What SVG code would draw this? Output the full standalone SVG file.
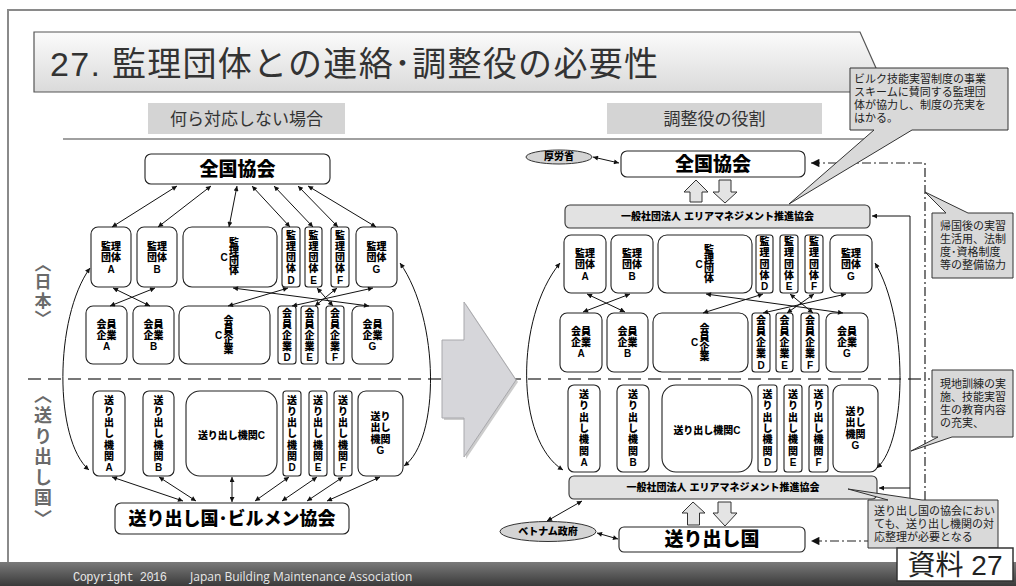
<svg xmlns="http://www.w3.org/2000/svg" width="1016" height="586" viewBox="0 0 1016 586">
<defs>
<linearGradient id="gb" x1="0" y1="0" x2="0" y2="1"><stop offset="0" stop-color="#fbfbfb"/><stop offset="1" stop-color="#dadada"/></linearGradient>
<linearGradient id="gf" x1="0" y1="0" x2="0" y2="1"><stop offset="0" stop-color="#7a7a7a"/><stop offset="1" stop-color="#3a3a3a"/></linearGradient>
<marker id="a" viewBox="0 0 10 10" refX="10" refY="5" markerWidth="7" markerHeight="5" orient="auto-start-reverse"><path d="M0,0L10,5L0,10z" fill="#111"/></marker>
<marker id="b" viewBox="0 0 10 10" refX="10" refY="5" markerWidth="10" markerHeight="7" orient="auto-start-reverse"><path d="M0,0L10,5L0,10z" fill="#111"/></marker>
<style>
.nb{fill:#fff;stroke:#222;stroke-width:1.1}
.gb{fill:#e2e2e2;stroke:#333;stroke-width:1.1}
.ha{fill:#e4e4e4;stroke:#333;stroke-width:1}
.t{font-family:"Liberation Sans","Noto Sans CJK JP",sans-serif;font-weight:900;font-size:10px;text-anchor:middle;fill:#000}
.big{font-family:"Liberation Sans","Noto Sans CJK JP",sans-serif;font-weight:900;text-anchor:middle;fill:#000}
.c{stroke:#111;stroke-width:1;fill:none;marker-start:url(#a);marker-end:url(#a)}
.dd{stroke:#222;stroke-width:1.2;fill:none;stroke-dasharray:9 3 2 3;marker-start:url(#b);marker-end:url(#b)}
.co{fill:#d9d9d9;stroke:#333;stroke-width:1}
.ct{font-family:"Liberation Sans","Noto Sans CJK JP",sans-serif;font-size:11px;fill:#222}
.side{font-family:"Noto Sans CJK JP",sans-serif;font-weight:bold;fill:#6a6a6a;writing-mode:vertical-rl}
.sub{font-family:"Liberation Sans","Noto Sans CJK JP",sans-serif;font-size:17px;fill:#333;text-anchor:middle}
</style>
</defs>
<rect width="1016" height="586" fill="#fff"/>
<!-- frame -->
<path d="M8,562 V10 H1016" fill="none" stroke="#8a8a8a" stroke-width="2"/>
<!-- title -->
<g id="title">
<path d="M34,32 H860 L884,86 V92 H34 Z" fill="url(#gb)" stroke="#555" stroke-width="1.2"/>
<text x="50" y="76" font-family="'Liberation Sans','Noto Sans CJK JP',sans-serif" font-size="34" fill="#333" textLength="608">27. 監理団体との連絡･調整役の必要性</text>
</g>
<g id="subtitles">
<rect x="148" y="103" width="197" height="31" fill="#d4d4d4"/>
<text class="sub" x="246.5" y="125">何ら対応しない場合</text>
<rect x="607" y="103" width="215" height="31" fill="#d4d4d4"/>
<text class="sub" x="714.5" y="125">調整役の役割</text>
</g>
<line x1="63" y1="139" x2="880" y2="139" stroke="#808080" stroke-width="1.6"/>
<!-- dashed border -->
<line x1="28" y1="379" x2="930" y2="379" stroke="#777" stroke-width="2.2" stroke-dasharray="13 7"/>
<!-- side labels -->
<g id="label-japan">
<text class="side" x="43" y="255" font-size="17" letter-spacing="1.5">〈日本〉</text>
</g>
<g id="label-sending">
<text class="side" x="43" y="386" font-size="18" letter-spacing="2.5">〈送り出し国〉</text>
</g>
<!-- big arrow -->
<g id="transition-arrow">
<polygon points="444,342 466,342 466,304 518,382 466,459 466,420 444,420" fill="#999" opacity="0.5"/>
<polygon points="442,340 464,340 464,302 516,380 464,457 464,418 442,418" fill="#d6d6da" stroke="#a8a8ac" stroke-width="1"/>
</g>

<!-- LEFT DIAGRAM NODES -->
<g id="L-zenkoku"><rect class="nb" x="145" y="154" width="185" height="30" rx="6"/><text class="big" x="237.5" y="176" font-size="19">全国協会</text></g>

<g id="L-kanri-A"><rect class="nb" x="91" y="227" width="40" height="60" rx="7"/><text class="t"><tspan x="111" y="249.5">監理</tspan><tspan x="111" y="261">団体</tspan><tspan x="111" y="272.5">A</tspan></text></g>
<g id="L-kanri-B"><rect class="nb" x="137" y="227" width="40" height="60" rx="7"/><text class="t"><tspan x="157" y="249.5">監理</tspan><tspan x="157" y="261">団体</tspan><tspan x="157" y="272.5">B</tspan></text></g>
<g id="L-kanri-C"><rect class="nb" x="183" y="227" width="94" height="60" rx="9"/><text class="t" x="224" y="261">C</text><text class="t"><tspan x="234" y="245.5">監</tspan><tspan x="234" y="255">理</tspan><tspan x="234" y="264.5">団</tspan><tspan x="234" y="274">体</tspan></text></g>
<g id="L-kanri-D"><rect class="nb" x="282" y="227" width="18" height="60" rx="3"/><text class="t"><tspan x="291" y="238.5">監</tspan><tspan x="291" y="249.8">理</tspan><tspan x="291" y="261">団</tspan><tspan x="291" y="272.3">体</tspan><tspan x="291" y="283.5">D</tspan></text></g>
<g id="L-kanri-E"><rect class="nb" x="305" y="227" width="17" height="60" rx="3"/><text class="t"><tspan x="313.5" y="238.5">監</tspan><tspan x="313.5" y="249.8">理</tspan><tspan x="313.5" y="261">団</tspan><tspan x="313.5" y="272.3">体</tspan><tspan x="313.5" y="283.5">E</tspan></text></g>
<g id="L-kanri-F"><rect class="nb" x="331" y="227" width="18" height="60" rx="3"/><text class="t"><tspan x="340" y="238.5">監</tspan><tspan x="340" y="249.8">理</tspan><tspan x="340" y="261">団</tspan><tspan x="340" y="272.3">体</tspan><tspan x="340" y="283.5">F</tspan></text></g>
<g id="L-kanri-G"><rect class="nb" x="356" y="227" width="41" height="60" rx="7"/><text class="t"><tspan x="376.5" y="249.5">監理</tspan><tspan x="376.5" y="261">団体</tspan><tspan x="376.5" y="272.5">G</tspan></text></g>

<g id="L-kaiin-A"><rect class="nb" x="86" y="306" width="41" height="58" rx="7"/><text class="t"><tspan x="106.5" y="327.5">会員</tspan><tspan x="106.5" y="338.5">企業</tspan><tspan x="106.5" y="349.5">A</tspan></text></g>
<g id="L-kaiin-B"><rect class="nb" x="133" y="306" width="41" height="58" rx="7"/><text class="t"><tspan x="153.5" y="327.5">会員</tspan><tspan x="153.5" y="338.5">企業</tspan><tspan x="153.5" y="349.5">B</tspan></text></g>
<g id="L-kaiin-C"><rect class="nb" x="179" y="306" width="91" height="58" rx="9"/><text class="t" x="218.5" y="338.5">C</text><text class="t"><tspan x="228.5" y="324.25">会</tspan><tspan x="228.5" y="333.75">員</tspan><tspan x="228.5" y="343.25">企</tspan><tspan x="228.5" y="352.75">業</tspan></text></g>
<g id="L-kaiin-D"><rect class="nb" x="278" y="306" width="18" height="58" rx="3"/><text class="t"><tspan x="287" y="316.5">会</tspan><tspan x="287" y="327.5">員</tspan><tspan x="287" y="338.5">企</tspan><tspan x="287" y="349.5">業</tspan><tspan x="287" y="360.5">D</tspan></text></g>
<g id="L-kaiin-E"><rect class="nb" x="301" y="306" width="17" height="58" rx="3"/><text class="t"><tspan x="309.5" y="316.5">会</tspan><tspan x="309.5" y="327.5">員</tspan><tspan x="309.5" y="338.5">企</tspan><tspan x="309.5" y="349.5">業</tspan><tspan x="309.5" y="360.5">E</tspan></text></g>
<g id="L-kaiin-F"><rect class="nb" x="326" y="306" width="18" height="58" rx="3"/><text class="t"><tspan x="335" y="316.5">会</tspan><tspan x="335" y="327.5">員</tspan><tspan x="335" y="338.5">企</tspan><tspan x="335" y="349.5">業</tspan><tspan x="335" y="360.5">F</tspan></text></g>
<g id="L-kaiin-G"><rect class="nb" x="352" y="306" width="41" height="58" rx="7"/><text class="t"><tspan x="372.5" y="327.5">会員</tspan><tspan x="372.5" y="338.5">企業</tspan><tspan x="372.5" y="349.5">G</tspan></text></g>

<g id="L-okuri-A"><rect class="nb" x="93" y="391" width="32" height="85" rx="6"/><text class="t"><tspan x="109" y="403.5">送</tspan><tspan x="109" y="414.8">り</tspan><tspan x="109" y="426.1">出</tspan><tspan x="109" y="437.4">し</tspan><tspan x="109" y="448.7">機</tspan><tspan x="109" y="460">関</tspan><tspan x="109" y="471.3">A</tspan></text></g>
<g id="L-okuri-B"><rect class="nb" x="143" y="391" width="31" height="85" rx="6"/><text class="t"><tspan x="158.5" y="403.5">送</tspan><tspan x="158.5" y="414.8">り</tspan><tspan x="158.5" y="426.1">出</tspan><tspan x="158.5" y="437.4">し</tspan><tspan x="158.5" y="448.7">機</tspan><tspan x="158.5" y="460">関</tspan><tspan x="158.5" y="471.3">B</tspan></text></g>
<g id="L-okuri-C"><rect class="nb" x="186" y="391" width="91" height="85" rx="14"/><text class="t" x="231.5" y="438.5" font-size="9.5">送り出し機関C</text></g>
<g id="L-okuri-D"><rect class="nb" x="283" y="391" width="18" height="85" rx="3"/><text class="t"><tspan x="292" y="403.5">送</tspan><tspan x="292" y="414.8">り</tspan><tspan x="292" y="426.1">出</tspan><tspan x="292" y="437.4">し</tspan><tspan x="292" y="448.7">機</tspan><tspan x="292" y="460">関</tspan><tspan x="292" y="471.3">D</tspan></text></g>
<g id="L-okuri-E"><rect class="nb" x="309" y="391" width="18" height="85" rx="3"/><text class="t"><tspan x="318" y="403.5">送</tspan><tspan x="318" y="414.8">り</tspan><tspan x="318" y="426.1">出</tspan><tspan x="318" y="437.4">し</tspan><tspan x="318" y="448.7">機</tspan><tspan x="318" y="460">関</tspan><tspan x="318" y="471.3">E</tspan></text></g>
<g id="L-okuri-F"><rect class="nb" x="334" y="391" width="18" height="85" rx="3"/><text class="t"><tspan x="343" y="403.5">送</tspan><tspan x="343" y="414.8">り</tspan><tspan x="343" y="426.1">出</tspan><tspan x="343" y="437.4">し</tspan><tspan x="343" y="448.7">機</tspan><tspan x="343" y="460">関</tspan><tspan x="343" y="471.3">F</tspan></text></g>
<g id="L-okuri-G"><rect class="nb" x="358" y="391" width="45" height="85" rx="8"/><text class="t"><tspan x="380.5" y="419.5">送り</tspan><tspan x="380.5" y="431">出し</tspan><tspan x="380.5" y="442.5">機関</tspan><tspan x="380.5" y="454">G</tspan></text></g>

<g id="L-birumen"><rect class="nb" x="115" y="503" width="234" height="31" rx="6"/><text class="big" x="232" y="525" font-size="18">送り出し国･ビルメン協会</text></g>

<!-- RIGHT DIAGRAM NODES -->
<g id="R-kourou"><ellipse cx="559" cy="157" rx="33" ry="7" fill="#d4d4d4" stroke="#333" stroke-width="1"/><text class="t" x="559" y="160" font-size="8">厚労省</text></g>
<g id="R-zenkoku"><rect class="nb" x="621" y="151" width="184" height="26" rx="6"/><text class="big" x="713" y="171" font-size="19">全国協会</text></g>
<g id="R-area-top"><rect class="gb" x="565" y="205" width="305" height="23" rx="5"/><text class="t" x="717.5" y="220" font-size="10">一般社団法人 エリアマネジメント推進協会</text></g>

<g id="R-kanri-A"><rect class="nb" x="564" y="235" width="42" height="58" rx="7"/><text class="t"><tspan x="585" y="256.5">監理</tspan><tspan x="585" y="268">団体</tspan><tspan x="585" y="279.5">A</tspan></text></g>
<g id="R-kanri-B"><rect class="nb" x="611" y="235" width="42" height="58" rx="7"/><text class="t"><tspan x="632" y="256.5">監理</tspan><tspan x="632" y="268">団体</tspan><tspan x="632" y="279.5">B</tspan></text></g>
<g id="R-kanri-C"><rect class="nb" x="658" y="235" width="94" height="58" rx="9"/><text class="t" x="699" y="268">C</text><text class="t"><tspan x="709" y="253.25">監</tspan><tspan x="709" y="262.75">理</tspan><tspan x="709" y="272.25">団</tspan><tspan x="709" y="281.75">体</tspan></text></g>
<g id="R-kanri-D"><rect class="nb" x="756" y="235" width="17" height="58" rx="3"/><text class="t"><tspan x="764.5" y="245">監</tspan><tspan x="764.5" y="256.25">理</tspan><tspan x="764.5" y="267.5">団</tspan><tspan x="764.5" y="278.75">体</tspan><tspan x="764.5" y="290">D</tspan></text></g>
<g id="R-kanri-E"><rect class="nb" x="780" y="235" width="18" height="58" rx="3"/><text class="t"><tspan x="789" y="245">監</tspan><tspan x="789" y="256.25">理</tspan><tspan x="789" y="267.5">団</tspan><tspan x="789" y="278.75">体</tspan><tspan x="789" y="290">E</tspan></text></g>
<g id="R-kanri-F"><rect class="nb" x="805" y="235" width="18" height="58" rx="3"/><text class="t"><tspan x="814" y="245">監</tspan><tspan x="814" y="256.25">理</tspan><tspan x="814" y="267.5">団</tspan><tspan x="814" y="278.75">体</tspan><tspan x="814" y="290">F</tspan></text></g>
<g id="R-kanri-G"><rect class="nb" x="830" y="235" width="42" height="58" rx="7"/><text class="t"><tspan x="851" y="256.5">監理</tspan><tspan x="851" y="268">団体</tspan><tspan x="851" y="279.5">G</tspan></text></g>

<g id="R-kaiin-A"><rect class="nb" x="560" y="313" width="42" height="59" rx="7"/><text class="t"><tspan x="581" y="335">会員</tspan><tspan x="581" y="346">企業</tspan><tspan x="581" y="357">A</tspan></text></g>
<g id="R-kaiin-B"><rect class="nb" x="607" y="313" width="41" height="59" rx="7"/><text class="t"><tspan x="627.5" y="335">会員</tspan><tspan x="627.5" y="346">企業</tspan><tspan x="627.5" y="357">B</tspan></text></g>
<g id="R-kaiin-C"><rect class="nb" x="653" y="313" width="95" height="59" rx="9"/><text class="t" x="694.5" y="346">C</text><text class="t"><tspan x="704.5" y="331.75">会</tspan><tspan x="704.5" y="341.25">員</tspan><tspan x="704.5" y="350.75">企</tspan><tspan x="704.5" y="360.25">業</tspan></text></g>
<g id="R-kaiin-D"><rect class="nb" x="752" y="313" width="18" height="59" rx="3"/><text class="t"><tspan x="761" y="323.5">会</tspan><tspan x="761" y="334.75">員</tspan><tspan x="761" y="346">企</tspan><tspan x="761" y="357.25">業</tspan><tspan x="761" y="368.5">D</tspan></text></g>
<g id="R-kaiin-E"><rect class="nb" x="776" y="313" width="17" height="59" rx="3"/><text class="t"><tspan x="784.5" y="323.5">会</tspan><tspan x="784.5" y="334.75">員</tspan><tspan x="784.5" y="346">企</tspan><tspan x="784.5" y="357.25">業</tspan><tspan x="784.5" y="368.5">E</tspan></text></g>
<g id="R-kaiin-F"><rect class="nb" x="801" y="313" width="18" height="59" rx="3"/><text class="t"><tspan x="810" y="323.5">会</tspan><tspan x="810" y="334.75">員</tspan><tspan x="810" y="346">企</tspan><tspan x="810" y="357.25">業</tspan><tspan x="810" y="368.5">F</tspan></text></g>
<g id="R-kaiin-G"><rect class="nb" x="826" y="313" width="42" height="59" rx="7"/><text class="t"><tspan x="847" y="335">会員</tspan><tspan x="847" y="346">企業</tspan><tspan x="847" y="357">G</tspan></text></g>

<g id="R-okuri-A"><rect class="nb" x="568" y="385" width="32" height="87" rx="6"/><text class="t"><tspan x="584" y="398.1">送</tspan><tspan x="584" y="409.4">り</tspan><tspan x="584" y="420.7">出</tspan><tspan x="584" y="432">し</tspan><tspan x="584" y="443.3">機</tspan><tspan x="584" y="454.6">関</tspan><tspan x="584" y="465.9">A</tspan></text></g>
<g id="R-okuri-B"><rect class="nb" x="617" y="385" width="32" height="87" rx="6"/><text class="t"><tspan x="633" y="398.1">送</tspan><tspan x="633" y="409.4">り</tspan><tspan x="633" y="420.7">出</tspan><tspan x="633" y="432">し</tspan><tspan x="633" y="443.3">機</tspan><tspan x="633" y="454.6">関</tspan><tspan x="633" y="465.9">B</tspan></text></g>
<g id="R-okuri-C"><rect class="nb" x="662" y="385" width="90" height="87" rx="14"/><text class="t" x="707" y="433.5" font-size="9.5">送り出し機関C</text></g>
<g id="R-okuri-D"><rect class="nb" x="758" y="385" width="19" height="87" rx="3"/><text class="t"><tspan x="767.5" y="398.1">送</tspan><tspan x="767.5" y="409.4">り</tspan><tspan x="767.5" y="420.7">出</tspan><tspan x="767.5" y="432">し</tspan><tspan x="767.5" y="443.3">機</tspan><tspan x="767.5" y="454.6">関</tspan><tspan x="767.5" y="465.9">D</tspan></text></g>
<g id="R-okuri-E"><rect class="nb" x="784" y="385" width="18" height="87" rx="3"/><text class="t"><tspan x="793" y="398.1">送</tspan><tspan x="793" y="409.4">り</tspan><tspan x="793" y="420.7">出</tspan><tspan x="793" y="432">し</tspan><tspan x="793" y="443.3">機</tspan><tspan x="793" y="454.6">関</tspan><tspan x="793" y="465.9">E</tspan></text></g>
<g id="R-okuri-F"><rect class="nb" x="809" y="385" width="19" height="87" rx="3"/><text class="t"><tspan x="818.5" y="398.1">送</tspan><tspan x="818.5" y="409.4">り</tspan><tspan x="818.5" y="420.7">出</tspan><tspan x="818.5" y="432">し</tspan><tspan x="818.5" y="443.3">機</tspan><tspan x="818.5" y="454.6">関</tspan><tspan x="818.5" y="465.9">F</tspan></text></g>
<g id="R-okuri-G"><rect class="nb" x="833" y="385" width="45" height="87" rx="8"/><text class="t"><tspan x="855.5" y="414.5">送り</tspan><tspan x="855.5" y="426">出し</tspan><tspan x="855.5" y="437.5">機関</tspan><tspan x="855.5" y="449">G</tspan></text></g>

<g id="R-area-bottom"><rect class="gb" x="569" y="476" width="308" height="23" rx="5"/><text class="t" x="723" y="491" font-size="10">一般社団法人 エリアマネジメント推進協会</text></g>
<g id="R-vietnam"><ellipse cx="548" cy="531.5" rx="48" ry="10" fill="#d4d4d4" stroke="#333" stroke-width="1"/><text class="t" x="548" y="535" font-size="9">ベトナム政府</text></g>
<g id="R-okuridashikoku"><rect class="nb" x="619" y="527" width="186" height="25" rx="5"/><text class="big" x="712" y="546" font-size="19">送り出し国</text></g>

<!-- hollow block arrows -->
<g id="R-blockarrows">
<path class="ha" d="M696,180 L708,192 H702 V202 H690 V192 H684 Z"/>
<path class="ha" d="M719,180 H731 V192 H737 L725,203 L713,192 H719 Z"/>
<path class="ha" d="M693,502 L705,513 H699.5 V525 H687.5 V513 H682 Z"/>
<path class="ha" d="M718,502 H731 V513 H737 L725,526 L713,513 H718 Z"/>
</g>

<!-- CONNECTORS -->
<g id="connectors">
<line class="c" x1="177" y1="186" x2="112" y2="227"/>
<line class="c" x1="211" y1="186" x2="158" y2="227"/>
<line class="c" x1="237" y1="186" x2="229" y2="227"/>
<line class="c" x1="252" y1="186" x2="290" y2="227"/>
<line class="c" x1="274" y1="186" x2="313" y2="227"/>
<line class="c" x1="298" y1="186" x2="338" y2="227"/>
<line class="c" x1="308" y1="186" x2="376" y2="227"/>

<line class="c" x1="113" y1="288" x2="150" y2="306"/>
<line class="c" x1="155" y1="288" x2="110" y2="306"/>
<line class="c" x1="233" y1="288" x2="369" y2="306"/>
<line class="c" x1="288" y1="288" x2="228" y2="306"/>
<line class="c" x1="317" y1="288" x2="333" y2="306"/>
<line class="c" x1="337" y1="288" x2="315" y2="306"/>
<line class="c" x1="373" y1="288" x2="292" y2="306"/>

<line class="c" x1="112" y1="477" x2="183" y2="501"/>
<line class="c" x1="159" y1="477" x2="196" y2="501"/>
<line class="c" x1="232" y1="477" x2="232" y2="502"/>
<line class="c" x1="289" y1="477" x2="255" y2="501"/>
<line class="c" x1="317" y1="477" x2="282" y2="501"/>
<line class="c" x1="343" y1="477" x2="307" y2="501"/>
<line class="c" x1="380" y1="477" x2="327" y2="501"/>

<path class="c" d="M90,268 C54,318 54,440 89,470"/>
<path class="c" d="M400,263 C440,320 440,440 404,466"/>

<line class="c" x1="593" y1="157" x2="619" y2="163"/>
<line class="c" x1="587" y1="294" x2="625" y2="312"/>
<line class="c" x1="630" y1="294" x2="583" y2="312"/>
<line class="c" x1="706" y1="294" x2="843" y2="313"/>
<line class="c" x1="763" y1="294" x2="703" y2="313"/>
<line class="c" x1="790" y1="294" x2="813" y2="313"/>
<line class="c" x1="814" y1="294" x2="787" y2="313"/>
<line class="c" x1="846" y1="294" x2="763" y2="313"/>

<path class="c" d="M560,263 C515,318 515,440 563,470"/>
<path class="c" d="M875,263 C908,318 908,440 877,468"/>

<line class="c" x1="547" y1="521" x2="582" y2="501"/>
<line class="c" x1="597" y1="533" x2="618" y2="539"/>

<line x1="910" y1="216" x2="910" y2="500" stroke="#111" stroke-width="1"/>
<line x1="910" y1="216" x2="872" y2="216" stroke="#111" stroke-width="1" marker-end="url(#a)"/>
<line x1="910" y1="488" x2="879" y2="488" stroke="#111" stroke-width="1" marker-end="url(#a)"/>

<path class="dd" d="M811,163 H925 V541 H811"/>
</g>

<!-- CALLOUTS -->
<g id="callout-1">
<path class="co" d="M850,68 H1008 V130 H912 L789,204 L874,130 H850 Z"/>
<text class="ct" font-size="11.8"><tspan x="854" y="83">ビルク技能実習制度の事業</tspan><tspan x="854" y="96">スキームに賛同する監理団</tspan><tspan x="854" y="109">体が協力し、制度の充実を</tspan><tspan x="854" y="122">はかる。</tspan></text>
</g>
<g id="callout-2">
<path class="co" d="M932,213 H946 L925,192 L968,213 H1013 V278 H932 Z"/>
<text class="ct"><tspan x="940" y="230">帰国後の実習</tspan><tspan x="940" y="243">生活用、法制</tspan><tspan x="940" y="256">度･資格制度</tspan><tspan x="940" y="269">等の整備協力</tspan></text>
</g>
<g id="callout-3">
<path class="co" d="M932,370 H1013 V437 H952 L911,451 L938,437 H932 Z"/>
<text class="ct"><tspan x="940" y="388">現地訓練の実</tspan><tspan x="940" y="401">施、技能実習</tspan><tspan x="940" y="414">生の教育内容</tspan><tspan x="940" y="427">の充実、</tspan></text>
</g>
<g id="callout-4">
<path class="co" d="M868,500 H888 L848,489 L922,500 H998 V548 H868 Z"/>
<text class="ct" font-size="10.8"><tspan x="874" y="515">送り出し国の協会におい</tspan><tspan x="874" y="528">ても、送り出し機関の対</tspan><tspan x="874" y="541">応整理が必要となる</tspan></text>
</g>

<!-- footer -->
<g id="footer">
<rect x="0" y="562" width="1016" height="24" fill="url(#gf)"/>
<text x="73" y="581" font-family="'Liberation Mono',monospace" font-size="12" fill="#e8e8e8" textLength="94">Copyright 2016</text>
<text x="190" y="581" font-family="'Open Sans',sans-serif" font-size="12" fill="#e8e8e8">Japan Building Maintenance Association</text>
</g>
<g id="doc-label">
<rect x="897" y="548" width="116" height="33" fill="#fff" stroke="#333" stroke-width="1.5"/>
<text x="955" y="575" font-family="'Liberation Sans','Noto Sans CJK JP',sans-serif" font-size="28" fill="#222" text-anchor="middle">資料 27</text>
</g>
</svg>
